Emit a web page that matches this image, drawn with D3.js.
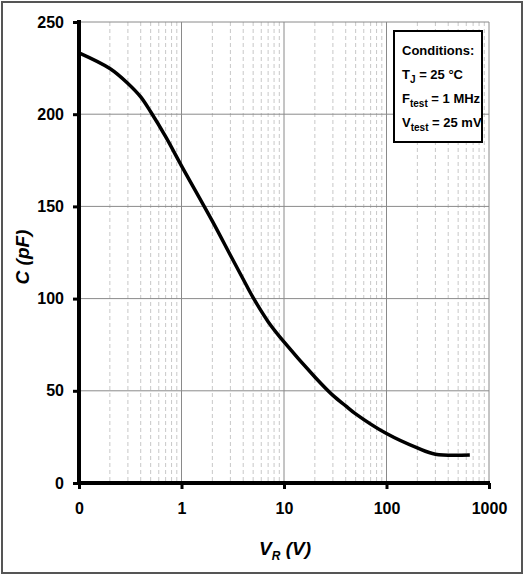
<!DOCTYPE html>
<html lang="en">
<head>
<meta charset="utf-8">
<style>
  body { margin: 0; background: #fff; }
  svg { display: block; }
  .tick text { font-family: "Liberation Sans", sans-serif; font-weight: bold; font-size: 16px; fill: #000; }
</style>
</head>
<body>
<div id="chart"></div>
<script src="https://d3js.org/d3.v7.min.js"></script>
<script>
// reverse voltage (V) and capacitance (pF)
var voltage = [0.1, 0.2, 0.3, 0.4, 0.5, 0.7, 1, 2, 3, 4, 5, 7, 10, 20, 30, 40, 50, 100, 200, 300, 650];
var capacitance = [233.3, 224.8, 216.7, 209.4, 201.3, 187.8, 172, 142, 123.5, 110.5, 100.5, 87.5, 76.5, 57.5, 47.5, 41.8, 37.5, 26.8, 19.0, 15.6, 15.2];

var xTicks = [0.1, 1, 10, 100, 1000];
var xTickLabels = ["0", "1", "10", "100", "1000"];
var yTicks = [0, 50, 100, 150, 200, 250];

var W = 529, H = 579;
var margin = { top: 22, left: 79 };
var width = 489 - margin.left,
    height = 483 - margin.top;

var svg = d3.select("#chart").append("svg")
    .attr("width", W).attr("height", H);

// outer frame
svg.append("rect")
    .attr("x", 2).attr("y", 2).attr("width", 520).attr("height", 571)
    .attr("fill", "none").attr("stroke", "#555").attr("stroke-width", 2);

var g = svg.append("g").attr("transform", "translate(" + margin.left + "," + margin.top + ")");

var x = d3.scaleLog().domain([0.1, 1000]).range([0, width]);
var y = d3.scaleLinear().domain([0, 250]).range([height, 0]);

// minor vertical grid (dashed)
var minor = [];
[0.1, 1, 10, 100].forEach(function (d) {
    for (var k = 2; k <= 9; k++) minor.push(d * k);
});
g.selectAll(".minor").data(minor).enter().append("line")
    .attr("x1", function (d) { return x(d); }).attr("x2", function (d) { return x(d); })
    .attr("y1", 0).attr("y2", height)
    .attr("stroke", "#c8c8c8").attr("stroke-width", 1).attr("stroke-dasharray", "4,3");

// major grid
g.selectAll(".vmajor").data(xTicks.slice(1)).enter().append("line")
    .attr("x1", function (d) { return x(d); }).attr("x2", function (d) { return x(d); })
    .attr("y1", 0).attr("y2", height)
    .attr("stroke", "#8a8a8a").attr("stroke-width", 1);
g.selectAll(".hmajor").data(yTicks.slice(1)).enter().append("line")
    .attr("x1", 0).attr("x2", width)
    .attr("y1", function (d) { return y(d); }).attr("y2", function (d) { return y(d); })
    .attr("stroke", "#8a8a8a").attr("stroke-width", 1);

// axes
var xAxis = g.append("g")
    .attr("transform", "translate(0," + height + ")")
    .call(d3.axisBottom(x).tickValues(xTicks)
        .tickFormat(function (d, i) { return xTickLabels[i]; })
        .tickSize(6).tickPadding(14));
var yAxis = g.append("g")
    .call(d3.axisLeft(y).tickValues(yTicks).tickSize(6).tickPadding(9));

[xAxis, yAxis].forEach(function (a) {
    a.select(".domain").remove();
    a.selectAll(".tick line").attr("stroke", "#000").attr("stroke-width", 3);
});

g.append("line").attr("x1", 0).attr("x2", 0).attr("y1", -2).attr("y2", height + 2)
    .attr("stroke", "#000").attr("stroke-width", 4);
g.append("line").attr("x1", -2).attr("x2", width + 1).attr("y1", height).attr("y2", height)
    .attr("stroke", "#000").attr("stroke-width", 4);

// curve
var data = voltage.map(function (v, i) { return { v: v, c: capacitance[i] }; });
var line = d3.line()
    .x(function (d) { return x(d.v); })
    .y(function (d) { return y(d.c); })
    .curve(d3.curveCatmullRom.alpha(0.5));
g.append("path").datum(data)
    .attr("d", line)
    .attr("fill", "none").attr("stroke", "#000").attr("stroke-width", 3.5)
    .attr("stroke-linejoin", "round");

// axis titles
var titleFont = '"Liberation Sans", sans-serif';
svg.append("text")
    .attr("transform", "translate(29,257) rotate(-90)")
    .attr("text-anchor", "middle")
    .style("font-family", titleFont).style("font-weight", "bold").style("font-style", "italic")
    .style("font-size", "19px")
    .text("C (pF)");

var xt = svg.append("text")
    .attr("x", 285).attr("y", 555)
    .attr("text-anchor", "middle")
    .style("font-family", titleFont).style("font-weight", "bold").style("font-style", "italic")
    .style("font-size", "19px");
xt.append("tspan").text("V");
xt.append("tspan").attr("dy", 5).style("font-size", "12px").text("R");
xt.append("tspan").attr("dy", -5).text(" (V)");

// conditions box
svg.append("rect")
    .attr("x", 394).attr("y", 31).attr("width", 88).attr("height", 111)
    .attr("fill", "#fff").attr("stroke", "#000").attr("stroke-width", 2);

var lines = [
    [["Conditions:", 0]],
    [["T", 0], ["J", 1], [" = 25 °C", 0]],
    [["F", 0], ["test", 1], [" = 1 MHz", 0]],
    [["V", 0], ["test", 1], [" = 25 mV", 0]]
];
lines.forEach(function (parts, i) {
    var t = svg.append("text")
        .attr("x", 402).attr("y", 55 + i * 24)
        .style("font-family", titleFont).style("font-weight", "bold").style("font-size", "13px");
    var prevSub = 0;
    parts.forEach(function (p) {
        var s = t.append("tspan").text(p[0]);
        if (p[1] && !prevSub) s.attr("dy", 4).style("font-size", "10px");
        if (!p[1] && prevSub) s.attr("dy", -4);
        prevSub = p[1];
    });
});
</script>
</body>
</html>
